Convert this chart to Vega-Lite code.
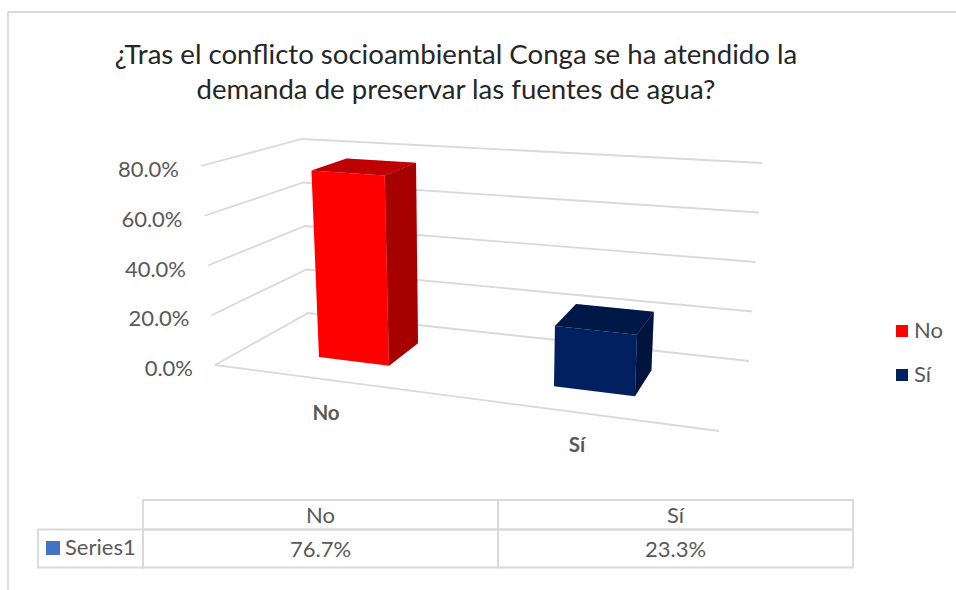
{
"$schema":"https://vega.github.io/schema/vega-lite/v6.json",
"width":956,"height":590,"padding":0,"autosize":"none","background":"white",
"title":{"text":["¿Tras el conflicto socioambiental Conga se ha atendido la","demanda de preservar las fuentes de agua?"],"font":"Lato","fontSize":27.6,"fontWeight":"normal","color":"#262626","lineHeight":35,"anchor":"middle","frame":"group","baseline":"top","offset":-105,"dx":-22},
"config":{"view":{"stroke":null},"font":"Lato"},
"datasets":{
"bars":[{"category":"No","share":0.767},{"category":"Sí","share":0.233}],
"ticks":[{"tick":0},{"tick":0.2},{"tick":0.4},{"tick":0.6},{"tick":0.8}],
"series":[{"series":"Series1"}]
},
"layer":[
{"data":{"values":[{"edge":"frame"}]},"mark":{"type":"rule","color":"#d9d9d9","strokeWidth":1.8},
 "encoding":{"x":{"datum":8,"type":"quantitative","scale":{"domain":[0,956],"range":[0,956],"nice":false,"zero":false},"axis":null},"x2":{"datum":956},"y":{"datum":12,"type":"quantitative","scale":{"domain":[0,590],"range":[0,590],"nice":false,"zero":false},"axis":null}}},
{"data":{"values":[{"edge":"frame"}]},"mark":{"type":"rule","color":"#d9d9d9","strokeWidth":1.8},
 "encoding":{"x":{"datum":8,"type":"quantitative"},"y":{"datum":12,"type":"quantitative"},"y2":{"datum":590}}},
{"data":{"name":"ticks"},
 "transform":[
  {"calculate":"[{p:0,a:0,d:0},{p:1,a:0,d:1},{p:2,a:1,d:1}]","as":"c"},{"flatten":["c"]},
  {"calculate":"datum.c.a","as":"a"},{"calculate":"datum.c.d","as":"d"},{"calculate":"datum.c.p","as":"p"},{"calculate":"datum.tick/0.8","as":"h"},
  {"calculate":"(1-datum.h)*((1-datum.a)*(1-datum.d)*215+datum.a*(1-datum.d)*719+(1-datum.a)*datum.d*308+datum.a*datum.d*749)+datum.h*((1-datum.a)*(1-datum.d)*201+datum.a*(1-datum.d)*730+(1-datum.a)*datum.d*302+datum.a*datum.d*762)","as":"px"},
  {"calculate":"(1-datum.h)*((1-datum.a)*(1-datum.d)*365+datum.a*(1-datum.d)*431+(1-datum.a)*datum.d*313+datum.a*datum.d*361)+datum.h*((1-datum.a)*(1-datum.d)*166+datum.a*(1-datum.d)*206+(1-datum.a)*datum.d*139+datum.a*datum.d*163)","as":"py"}
 ],
 "layer":[
  {"mark":{"type":"line","color":"#d9d9d9","strokeWidth":1.8},
   "encoding":{"x":{"field":"px","type":"quantitative"},"y":{"field":"py","type":"quantitative"},"detail":{"field":"tick"},"order":{"field":"p"}}},
  {"transform":[{"filter":"datum.p==0"}],"mark":{"type":"text","align":"right","baseline":"middle","dx":-22,"dy":4,"fontSize":22,"color":"#595959"},
   "encoding":{"x":{"field":"px","type":"quantitative"},"y":{"field":"py","type":"quantitative"},"text":{"field":"tick","type":"quantitative","format":".1%"}}}
 ]},
{"data":{"values":[{"edge":"floor","p":0,"a":0},{"edge":"floor","p":1,"a":1}]},
 "transform":[
  {"calculate":"215+datum.a*504","as":"px"},{"calculate":"365+datum.a*66","as":"py"}
 ],
 "mark":{"type":"line","color":"#d9d9d9","strokeWidth":1.8},
 "encoding":{"x":{"field":"px","type":"quantitative"},"y":{"field":"py","type":"quantitative"},"order":{"field":"p"}}},
{"data":{"name":"bars"},
 "transform":[
  {"calculate":"[{f:'front',p:0,u:0,v:0,t:0},{f:'front',p:1,u:1,v:0,t:0},{f:'front',p:2,u:1,v:0,t:1},{f:'front',p:3,u:0,v:0,t:1},{f:'top',p:0,u:0,v:0,t:1},{f:'top',p:1,u:1,v:0,t:1},{f:'top',p:2,u:1,v:1,t:1},{f:'top',p:3,u:0,v:1,t:1},{f:'side',p:0,u:1,v:0,t:0},{f:'side',p:1,u:1,v:1,t:0},{f:'side',p:2,u:1,v:1,t:1},{f:'side',p:3,u:1,v:0,t:1}]","as":"c"},
  {"flatten":["c"]},
  {"calculate":"datum.c.f","as":"face"},{"calculate":"datum.c.p","as":"p"},
  {"calculate":"datum.category=='No'?0.1517+datum.c.u*0.1449:0.638+datum.c.u*0.1675","as":"a"},
  {"calculate":"0.33+datum.c.v*0.39","as":"d"},
  {"calculate":"datum.c.t*datum.share/0.8","as":"h"},
  {"calculate":"datum.face=='top'?0.25:datum.face=='side'?0.35:0","as":"shade"},
  {"calculate":"(1-datum.h)*((1-datum.a)*(1-datum.d)*215+datum.a*(1-datum.d)*719+(1-datum.a)*datum.d*308+datum.a*datum.d*749)+datum.h*((1-datum.a)*(1-datum.d)*201+datum.a*(1-datum.d)*730+(1-datum.a)*datum.d*302+datum.a*datum.d*762)","as":"px"},
  {"calculate":"(1-datum.h)*((1-datum.a)*(1-datum.d)*365+datum.a*(1-datum.d)*431+(1-datum.a)*datum.d*313+datum.a*datum.d*361)+datum.h*((1-datum.a)*(1-datum.d)*166+datum.a*(1-datum.d)*206+(1-datum.a)*datum.d*139+datum.a*datum.d*163)","as":"py"}
 ],
 "layer":[
  {"mark":{"type":"line","strokeWidth":0,"filled":true},
   "encoding":{"x":{"field":"px","type":"quantitative"},"y":{"field":"py","type":"quantitative"},"detail":{"field":"face"},"order":{"field":"p"},
    "fill":{"field":"category","type":"nominal","scale":{"domain":["No","Sí"],"range":["#ff0000","#002060"]},
     "legend":{"title":null,"orient":"none","legendX":891,"legendY":320,"symbolType":"square","symbolSize":144,"symbolStrokeWidth":0,"labelFontSize":22,"labelColor":"#595959","labelFont":"Lato","rowPadding":22,"labelOffset":1}}}},
  {"transform":[{"filter":"datum.face!='front'"}],"mark":{"type":"line","fill":"#000000","strokeWidth":0},
   "encoding":{"x":{"field":"px","type":"quantitative"},"y":{"field":"py","type":"quantitative"},"detail":[{"field":"category"},{"field":"face"}],"order":{"field":"p"},
    "opacity":{"field":"shade","type":"quantitative","scale":null,"legend":null}}}
 ]},
{"data":{"name":"bars"},
 "transform":[
  {"calculate":"(datum.category=='No'?326:577)","as":"px"},{"calculate":"(datum.category=='No'?414:446)","as":"py"}
 ],
 "mark":{"type":"text","fontWeight":"bold","fontSize":20.5,"color":"#595959"},
 "encoding":{"x":{"field":"px","type":"quantitative"},"y":{"field":"py","type":"quantitative"},"text":{"field":"category"}}},
{"data":{"name":"bars"},
 "transform":[
  {"calculate":"['head','value']","as":"row"},{"flatten":["row"]},
  {"calculate":"datum.category=='No'?143:498","as":"x0"},{"calculate":"datum.category=='No'?498:853","as":"x1"},
  {"calculate":"datum.row=='head'?500:529.5","as":"y0"},{"calculate":"datum.row=='head'?529.5:567.5","as":"y1"},
  {"calculate":"(datum.x0+datum.x1)/2","as":"xc"},{"calculate":"(datum.y0+datum.y1)/2","as":"yc"},
  {"calculate":"datum.row=='head'?datum.category:format(datum.share,'.1%')","as":"label"}
 ],
 "layer":[
  {"mark":{"type":"rect","fillOpacity":0,"stroke":"#d9d9d9","strokeWidth":1.8},
   "encoding":{"x":{"field":"x0","type":"quantitative"},"x2":{"field":"x1"},"y":{"field":"y0","type":"quantitative"},"y2":{"field":"y1"}}},
  {"mark":{"type":"text","fontSize":22,"color":"#595959","dy":1},
   "encoding":{"x":{"field":"xc","type":"quantitative"},"y":{"field":"yc","type":"quantitative"},"text":{"field":"label"}}}
 ]},
{"data":{"name":"series"},
 "transform":[{"calculate":"38","as":"x0"},{"calculate":"143","as":"x1"},{"calculate":"529.5","as":"y0"},{"calculate":"567.5","as":"y1"},{"calculate":"53","as":"kx"},{"calculate":"65","as":"tx"},{"calculate":"548","as":"yc"}],
 "layer":[
  {"mark":{"type":"rect","fillOpacity":0,"stroke":"#d9d9d9","strokeWidth":1.8},
   "encoding":{"x":{"field":"x0","type":"quantitative"},"x2":{"field":"x1"},"y":{"field":"y0","type":"quantitative"},"y2":{"field":"y1"}}},
  {"mark":{"type":"point","shape":"square","filled":true,"size":196,"color":"#4472c4","opacity":1},
   "encoding":{"x":{"field":"kx","type":"quantitative"},"y":{"field":"yc","type":"quantitative"}}},
  {"mark":{"type":"text","align":"left","fontSize":22,"color":"#595959"},
   "encoding":{"x":{"field":"tx","type":"quantitative"},"y":{"field":"yc","type":"quantitative"},"text":{"field":"series"}}}
 ]}
]
}
